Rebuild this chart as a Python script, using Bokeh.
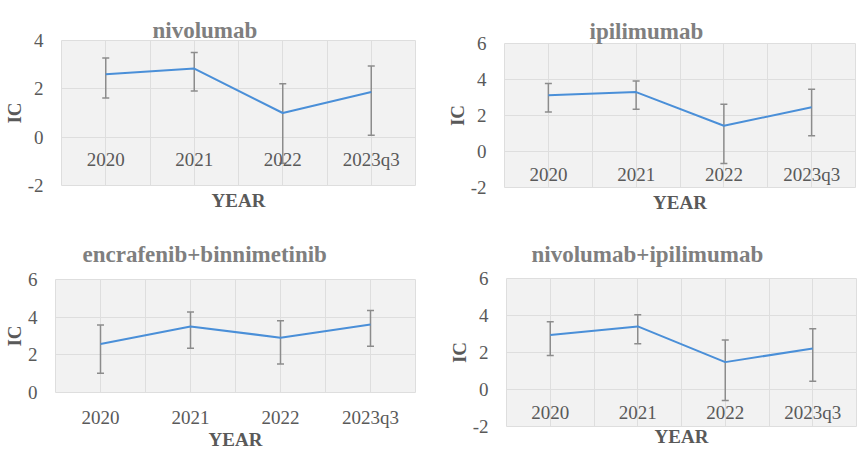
from bokeh.plotting import figure
from bokeh.layouts import column, row
from bokeh.models import (ColumnDataSource, Whisker, TeeHead, FixedTicker, Range1d,
                          Title, LinearAxis)
from bokeh.embed import file_html
from bokeh.resources import INLINE

years = ["2020", "2021", "2022", "2023q3"]

nivo_ic = [2.60, 2.84, 1.00, 1.87]
nivo_lo = [1.62, 1.91, -1.08, 0.08]
nivo_hi = [3.28, 3.50, 2.21, 2.95]

ipi_ic = [3.13, 3.30, 1.43, 2.46]
ipi_lo = [2.19, 2.35, -0.67, 0.87]
ipi_hi = [3.78, 3.91, 2.63, 3.46]

enc_ic = [2.58, 3.51, 2.91, 3.61]
enc_lo = [1.02, 2.35, 1.51, 2.46]
enc_hi = [3.58, 4.28, 3.81, 4.35]

combo_ic = [2.94, 3.41, 1.48, 2.22]
combo_lo = [1.84, 2.47, -0.59, 0.45]
combo_hi = [3.66, 4.04, 2.68, 3.28]

SERIF = "Liberation Serif"
GRID = "#dedede"
BG = "#f2f2f2"
TXT = "#595959"
TITLE_C = "#7f7f7f"
LINE_C = "#4a8fd8"
ERR_C = "#8c8c8c"


def make_panel(title, ic, lo, hi, ymin, ymax, w, h, bl, br, bt, bb,
               title_offset, title_standoff, spacer, axis_at_zero,
               xlab_standoff, year_standoff):
    xs = list(range(1, len(years) + 1))
    src = ColumnDataSource(dict(x=xs, ic=ic, lo=lo, hi=hi))
    p = figure(width=w, height=h,
               x_range=Range1d(0.5, len(years) + 0.5),
               y_range=Range1d(ymin, ymax),
               output_backend="svg", toolbar_location=None,
               min_border_left=bl, min_border_right=br,
               min_border_top=bt, min_border_bottom=bb)
    p.background_fill_color = BG
    p.border_fill_color = "white"
    p.outline_line_color = GRID

    # category axis (the one below the plot area)
    bounds = [x - 0.5 for x in xs] + [xs[-1] + 0.5]
    xaxis = p.below[0]
    xaxis.ticker = FixedTicker(ticks=xs, minor_ticks=bounds)
    xaxis.major_label_overrides = {x: y for x, y in zip(xs, years)}
    xaxis.axis_line_color = None
    xaxis.major_tick_line_color = None
    xaxis.minor_tick_line_color = None
    xaxis.major_tick_out = 0
    xaxis.minor_tick_out = 0
    xaxis.major_label_standoff = xlab_standoff
    xaxis.major_label_text_font = SERIF
    xaxis.major_label_text_font_size = "19px"
    xaxis.major_label_text_color = TXT
    if axis_at_zero:
        xaxis.fixed_location = 0

    yticks = list(range(ymin, ymax + 1, 2))
    yaxis = p.left[0]
    yaxis.ticker = FixedTicker(ticks=yticks)
    yaxis.major_label_overrides = {t: str(t) for t in yticks}
    yaxis.axis_line_color = None
    yaxis.major_tick_line_color = None
    yaxis.minor_tick_line_color = None
    yaxis.major_tick_out = 0
    yaxis.minor_tick_out = 0
    yaxis.major_label_standoff = 18
    yaxis.major_label_text_font = SERIF
    yaxis.major_label_text_font_size = "19px"
    yaxis.major_label_text_color = TXT
    yaxis.axis_label = "IC"
    yaxis.axis_label_text_font = SERIF
    yaxis.axis_label_text_font_size = "19px"
    yaxis.axis_label_text_font_style = "bold"
    yaxis.axis_label_text_color = TXT
    yaxis.axis_label_standoff = 0

    p.xgrid.grid_line_color = GRID
    p.xgrid.minor_grid_line_color = GRID
    p.ygrid.grid_line_color = GRID

    # empty gap between the plot area and the title (draws nothing)
    gap = LinearAxis(ticker=FixedTicker(ticks=[]), axis_line_color=None,
                     major_tick_line_color=None, minor_tick_line_color=None,
                     major_tick_in=0, major_tick_out=spacer,
                     minor_tick_in=0, minor_tick_out=0,
                     major_label_standoff=0)
    p.add_layout(gap, "above")
    p.add_layout(Title(text=title, align="left", offset=title_offset,
                       vertical_align="top", standoff=title_standoff,
                       text_font=SERIF, text_font_size="23px",
                       text_font_style="bold", text_color=TITLE_C), "above")

    p.add_layout(Title(text="YEAR", align="center", vertical_align="top",
                       text_font=SERIF, text_font_size="19px",
                       text_font_style="bold", text_color=TXT,
                       standoff=year_standoff), "below")

    wh = Whisker(source=src, base="x", upper="hi", lower="lo",
                 line_color=ERR_C, line_width=1.5,
                 upper_head=TeeHead(size=7, line_color=ERR_C, line_width=1.5),
                 lower_head=TeeHead(size=7, line_color=ERR_C, line_width=1.5))
    p.add_layout(wh)
    p.line(x="x", y="ic", source=src, line_color=LINE_C, line_width=2)
    return p


p1 = make_panel("nivolumab", nivo_ic, nivo_lo, nivo_hi, -2, 4,
                430, 225, 60, 15, 40, 40, 91, -8, 18, True, 12, 8)
p2 = make_panel("ipilimumab", ipi_ic, ipi_lo, ipi_hi, -2, 6,
                428, 225, 74, 3, 43, 38, 85, -5, 18, True, 12, 8)
p3 = make_panel("encrafenib+binnimetinib", enc_ic, enc_lo, enc_hi, 0, 6,
                430, 225, 54, 15, 54, 58, 27, 21, 3, False, 14, -4)
p4 = make_panel("nivolumab+ipilimumab", combo_ic, combo_lo, combo_hi, -2, 6,
                428, 225, 76, 2, 53, 24, 25, 19, 4, True, 12, -1)

layout = column(row(column(p1), column(p2)), row(column(p3), column(p4)))

open("out.html", "w").write(file_html(layout, INLINE))
